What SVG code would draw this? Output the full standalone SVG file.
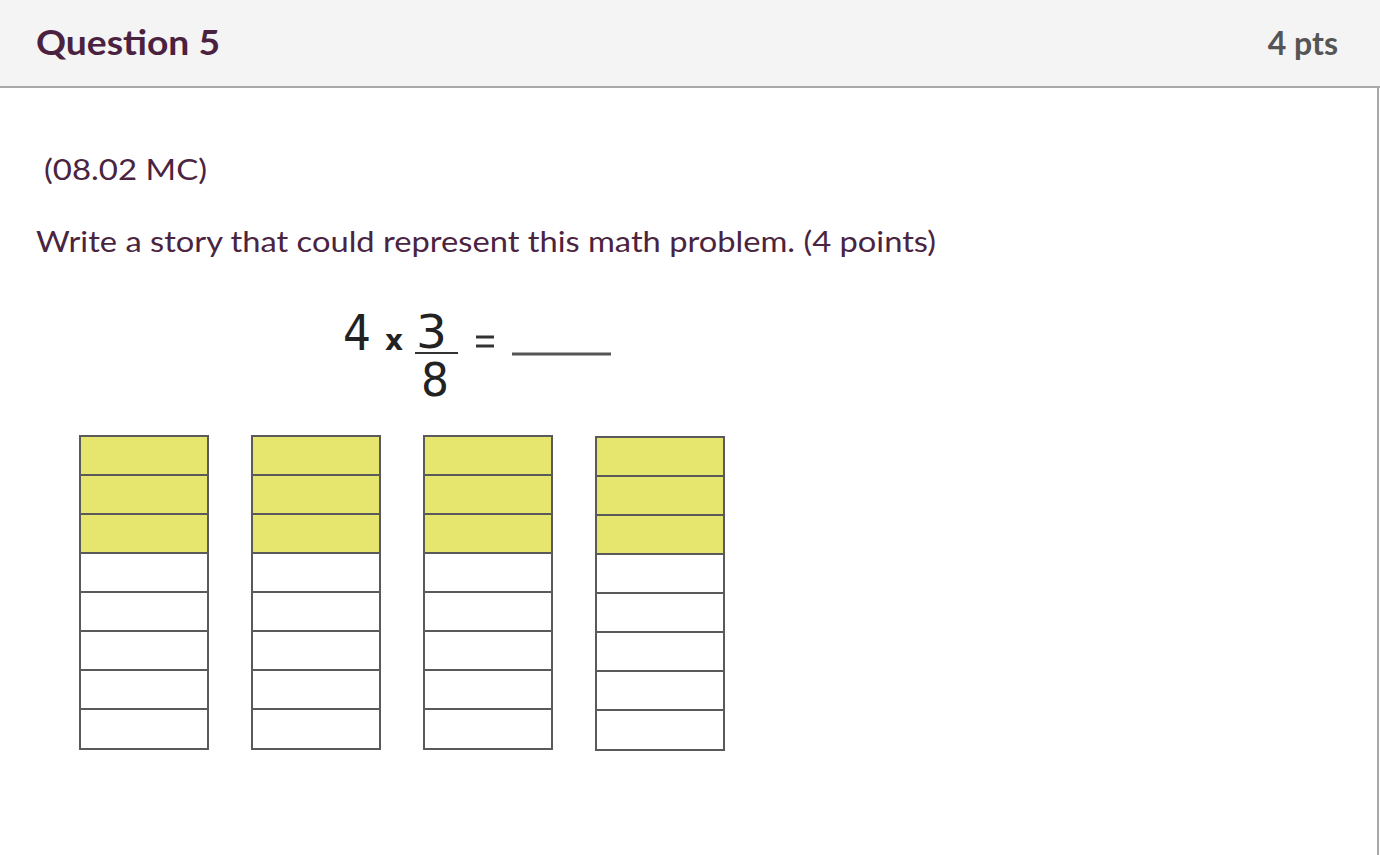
<svg xmlns="http://www.w3.org/2000/svg" width="1380" height="855" viewBox="0 0 1380 855">
<style>
.hdr{font-family:"Lato","Liberation Sans",sans-serif;font-weight:bold}
.body{font-family:"Lato","Open Sans","Liberation Sans",sans-serif;fill:#4a2440}
.eq{font-family:"DejaVu Sans","Liberation Sans",sans-serif;fill:#222}
.cell{stroke:#5a5a5a;stroke-width:2}
.y{fill:#e6e66e}
.w{fill:#ffffff}
</style>
<rect x="0" y="0" width="1380" height="855" fill="#ffffff"/>
<g id="header">
<rect x="0" y="0" width="1380" height="87" fill="#f4f4f4"/>
<line x1="0" y1="87" x2="1380" y2="87" stroke="#a8a8a8" stroke-width="2"/>
<line x1="1378" y1="87" x2="1378" y2="855" stroke="#a8a8a8" stroke-width="2"/>
<text class="hdr" x="36" y="55" font-size="35" fill="#4a2240" textLength="184" lengthAdjust="spacingAndGlyphs">Question 5</text>
<text class="hdr" x="1338" y="55" font-size="32" fill="#555555" text-anchor="end">4 pts</text>
</g>
<g id="texts">
<text class="body" x="44" y="180" font-size="29" textLength="163" lengthAdjust="spacingAndGlyphs">(08.02 MC)</text>
<text class="body" x="36" y="252" font-size="29" textLength="900" lengthAdjust="spacingAndGlyphs">Write a story that could represent this math problem. (4 points)</text>
</g>
<g id="equation">
<text class="eq" x="343" y="350" font-size="50" textLength="28" lengthAdjust="spacingAndGlyphs">4</text>
<text class="eq" x="385" y="350" font-size="28" font-weight="bold">x</text>
<text class="eq" x="416" y="348" font-size="46" textLength="31" lengthAdjust="spacingAndGlyphs">3</text>
<line x1="415" y1="353" x2="458" y2="353" stroke="#333" stroke-width="2"/>
<text class="eq" x="421" y="396" font-size="46" textLength="28" lengthAdjust="spacingAndGlyphs">8</text>
<line x1="476" y1="337" x2="494" y2="337" stroke="#333" stroke-width="3"/>
<line x1="476" y1="346" x2="494" y2="346" stroke="#333" stroke-width="3"/>
<line x1="512" y1="354" x2="611" y2="354" stroke="#555" stroke-width="3"/>
</g>
<g id="bar1">
<rect class="cell y" x="80" y="436" width="128" height="39"/>
<rect class="cell y" x="80" y="475" width="128" height="39"/>
<rect class="cell y" x="80" y="514" width="128" height="39"/>
<rect class="cell w" x="80" y="553" width="128" height="39"/>
<rect class="cell w" x="80" y="592" width="128" height="39"/>
<rect class="cell w" x="80" y="631" width="128" height="39"/>
<rect class="cell w" x="80" y="670" width="128" height="39"/>
<rect class="cell w" x="80" y="709" width="128" height="40"/>
</g>
<g id="bar2">
<rect class="cell y" x="252" y="436" width="128" height="39"/>
<rect class="cell y" x="252" y="475" width="128" height="39"/>
<rect class="cell y" x="252" y="514" width="128" height="39"/>
<rect class="cell w" x="252" y="553" width="128" height="39"/>
<rect class="cell w" x="252" y="592" width="128" height="39"/>
<rect class="cell w" x="252" y="631" width="128" height="39"/>
<rect class="cell w" x="252" y="670" width="128" height="39"/>
<rect class="cell w" x="252" y="709" width="128" height="40"/>
</g>
<g id="bar3">
<rect class="cell y" x="424" y="436" width="128" height="39"/>
<rect class="cell y" x="424" y="475" width="128" height="39"/>
<rect class="cell y" x="424" y="514" width="128" height="39"/>
<rect class="cell w" x="424" y="553" width="128" height="39"/>
<rect class="cell w" x="424" y="592" width="128" height="39"/>
<rect class="cell w" x="424" y="631" width="128" height="39"/>
<rect class="cell w" x="424" y="670" width="128" height="39"/>
<rect class="cell w" x="424" y="709" width="128" height="40"/>
</g>
<g id="bar4">
<rect class="cell y" x="596" y="437" width="128" height="39"/>
<rect class="cell y" x="596" y="476" width="128" height="39"/>
<rect class="cell y" x="596" y="515" width="128" height="39"/>
<rect class="cell w" x="596" y="554" width="128" height="39"/>
<rect class="cell w" x="596" y="593" width="128" height="39"/>
<rect class="cell w" x="596" y="632" width="128" height="39"/>
<rect class="cell w" x="596" y="671" width="128" height="39"/>
<rect class="cell w" x="596" y="710" width="128" height="40"/>
</g>
</svg>
